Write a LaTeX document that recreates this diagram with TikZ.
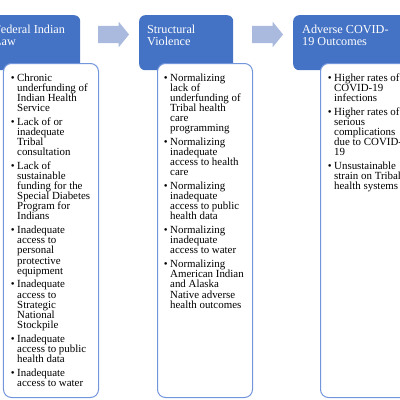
\documentclass[tikz,border=0pt]{standalone}
\usepackage{fontspec}
\setmainfont{Liberation Serif}
\usetikzlibrary{shapes.arrows}
\definecolor{hdrblue}{RGB}{68,114,196}
\definecolor{boxedge}{RGB}{114,150,220}
\definecolor{arrowfill}{RGB}{170,186,222}
\newcommand{\bul}{\llap{\textbullet\hspace{2.5bp}}}
\tikzset{
  header/.style={draw=none, fill=hdrblue, rounded corners=6bp, inner sep=0pt,
    anchor=north west, minimum height=55bp},
  htext/.style={inner sep=0pt, anchor=north west, align=left, text=white,
    font={\fontsize{12.2bp}{12bp}\selectfont}},
  bodybox/.style={draw=boxedge, line width=1bp, fill=white, rounded corners=8bp,
    inner sep=0pt, anchor=north west, minimum height=334bp},
  btext/.style={inner sep=0pt, anchor=north west, align=left, text=black,
    font={\fontsize{10.9bp}{10.1bp}\selectfont}},
  blockarrow/.style={single arrow, fill=arrowfill, draw=none,
    inner xsep=0pt, inner ysep=8.5bp,
    minimum height=31bp, single arrow head extend=4bp,
    single arrow tip angle=102},
}
\begin{document}
\begin{tikzpicture}[x=1bp, y=-1bp]
\useasboundingbox (0,0) rectangle (400,400);
\clip (0,0) rectangle (400,400);
% headers
\node[header, minimum width=94bp] (h1) at (-14,15) {};
\node[header, minimum width=94bp] (h2) at (139,15) {};
\node[header, minimum width=130bp] (h3) at (293,15) {};
% body boxes
\node[bodybox, minimum width=95bp] (b1) at (3,63) {};
\node[bodybox, minimum width=95bp] (b2) at (157,63) {};
\node[bodybox, minimum width=110bp] (b3) at (320,63) {};
% header texts
\node[htext] (h1t) at (-6,24.5) {Federal Indian\\Law};
\node[htext] (h2t) at (147,24.5) {Structural\\Violence};
\node[htext] (h3t) at (302,24.5) {Adverse COVID-\\19 Outcomes};
% arrows
\node[blockarrow] (a1) at (110,34.5) {};
\node[blockarrow] (a2) at (264,34.5) {};
% body texts
\node[btext] (t1) at (17,73.5) {%
\bul Chronic\\underfunding of\\Indian Health\\Service\\[3.7bp]
\bul Lack of or\\inadequate\\Tribal\\consultation\\[3.7bp]
\bul Lack of\\sustainable\\funding for the\\Special Diabetes\\Program for\\Indians\\[3.7bp]
\bul Inadequate\\access to\\personal\\protective\\equipment\\[3.7bp]
\bul Inadequate\\access to\\Strategic\\National\\Stockpile\\[3.7bp]
\bul Inadequate\\access to public\\health data\\[3.7bp]
\bul Inadequate\\access to water};
\node[btext] (t2) at (170,73.5) {%
\bul Normalizing\\lack of\\underfunding of\\Tribal health\\care\\programming\\[3.7bp]
\bul Normalizing\\inadequate\\access to health\\care\\[3.7bp]
\bul Normalizing\\inadequate\\access to public\\health data\\[3.7bp]
\bul Normalizing\\inadequate\\access to water\\[3.7bp]
\bul Normalizing\\American Indian\\and Alaska\\Native adverse\\health outcomes};
\node[btext] (t3) at (334,73.5) {%
\bul Higher rates of\\COVID-19\\infections\\[3.7bp]
\bul Higher rates of\\serious\\complications\\due to COVID-\\19\\[3.7bp]
\bul Unsustainable\\strain on Tribal\\health systems};
\end{tikzpicture}
\end{document}
